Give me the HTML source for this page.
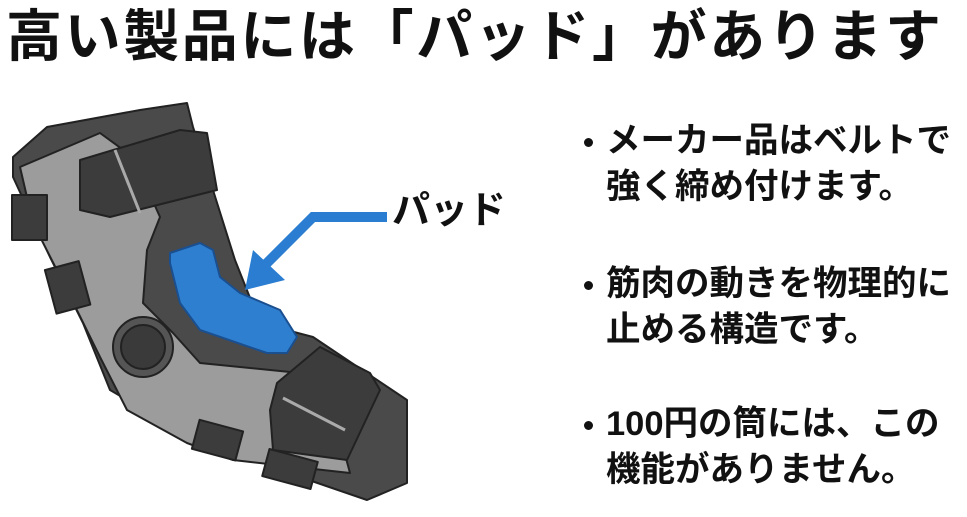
<!DOCTYPE html>
<html><head><meta charset="utf-8"><style>
body{margin:0;width:967px;height:517px;background:#fff;overflow:hidden;position:relative;font-family:"Liberation Sans","Noto Sans CJK JP",sans-serif;font-weight:bold;color:#111}
.t{position:absolute;white-space:nowrap}
.b{position:absolute;font-size:34.5px;line-height:46px;white-space:nowrap}
.d{position:absolute;width:9px;height:9px;border-radius:50%;background:#111}
</style></head><body>
<div class="t" style="left:6px;top:2px;font-size:56px;line-height:70px;letter-spacing:2.6px">高い製品には「パッド」があります</div>
<div class="t" style="left:392px;top:186px;font-size:38px;line-height:50px">パッド</div>
<div class="d" style="left:584px;top:138px"></div>
<div class="b" style="left:606px;top:118px">メーカー品はベルトで<br>強く締め付けます。</div>
<div class="d" style="left:584px;top:281px"></div>
<div class="b" style="left:606px;top:261px">筋肉の動きを物理的に<br>止める構造です。</div>
<div class="d" style="left:584px;top:421px"></div>
<div class="b" style="left:606px;top:401px">100円の筒には、この<br>機能がありません。</div>
<svg width="967" height="517" style="position:absolute;left:0;top:0">
<g stroke="#222" stroke-width="2" stroke-linejoin="round">
<polygon fill="#4a4a4a" points="13,157 47,127 140,110 187,103 193,127 213,190 235,260 260,323 313,337 407,400 407,483 367,500 300,477 167,423 110,390 83,323 50,257 13,177"/>
<polygon fill="#9c9c9c" points="20,167 100,133 133,157 160,217 147,250 143,303 173,333 200,363 300,373 333,410 350,473 233,460 187,443 127,410 100,357 67,290 33,223"/>
<circle cx="143" cy="347" r="30" fill="#555"/>
<circle cx="143" cy="347" r="22" fill="#3a3a3a"/>
<polygon fill="#2f7fd0" stroke="#1a4f90" points="170,253 200,243 213,250 220,277 240,293 280,310 297,337 287,353 267,353 200,330 180,303 170,263"/>
<polygon fill="#3c3c3c" points="80,160 180,130 207,133 217,190 110,217 80,210"/>
<line x1="115" y1="150" x2="140" y2="213" stroke="#aaa" stroke-width="3"/>
<polygon fill="#3c3c3c" points="277,383 320,347 370,373 380,390 347,460 273,450 270,410"/>
<line x1="283" y1="398" x2="345" y2="430" stroke="#aaa" stroke-width="3"/>
<rect x="12" y="195" width="35" height="45" fill="#3c3c3c"/>
<rect x="50" y="265" width="35" height="45" fill="#3c3c3c" transform="rotate(-15 67 287)"/>
<rect x="195" y="425" width="45" height="30" fill="#3c3c3c" transform="rotate(15 217 440)"/>
<rect x="265" y="455" width="50" height="28" fill="#3c3c3c" transform="rotate(15 290 469)"/>
</g>
<polyline points="387,217 313,217 262,268" fill="none" stroke="#2a7dd0" stroke-width="10"/>
<polygon points="245,290 253,250 285,280" fill="#2a7dd0"/>
</svg>
</body></html>
